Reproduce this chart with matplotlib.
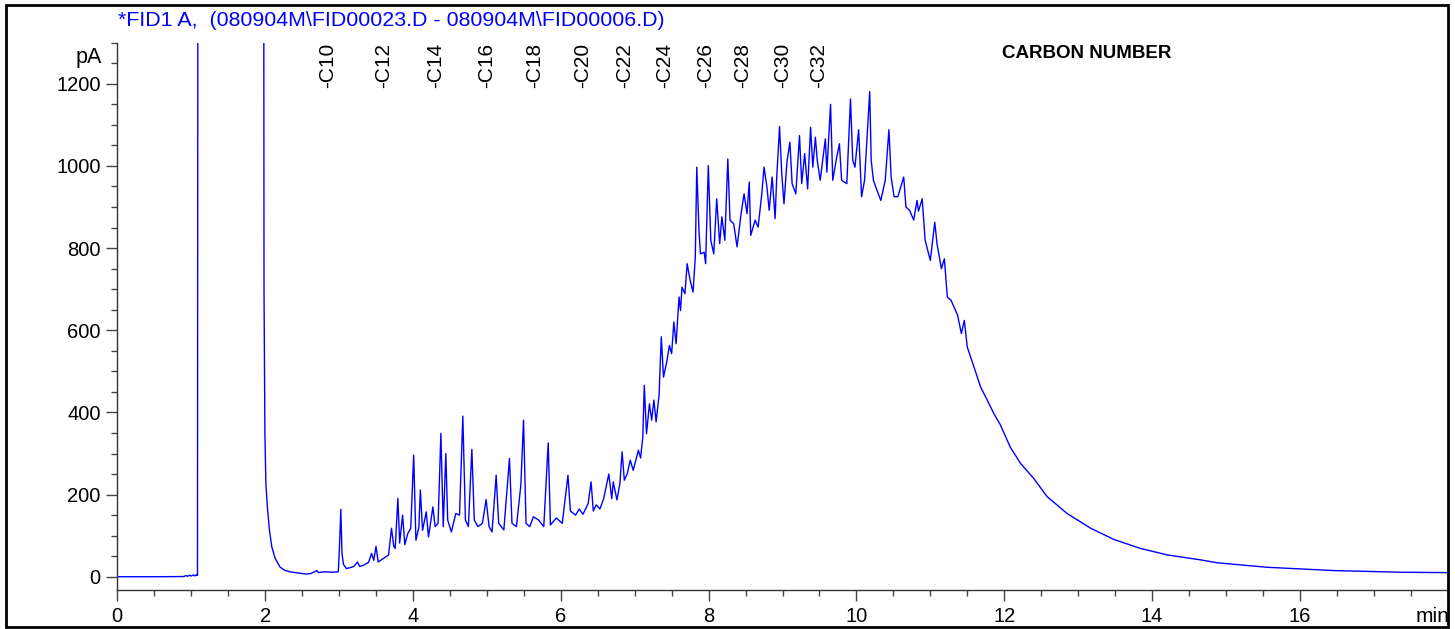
import matplotlib
matplotlib.use("Agg")
from matplotlib import pyplot as plt
from matplotlib.patches import Rectangle
from matplotlib.ticker import MultipleLocator

plt.rcParams['font.family'] = ['Liberation Sans', 'DejaVu Sans']

# retention time (min) and detector signal (pA)
time_min = [
    0.00, 0.50, 0.90, 0.93, 0.95, 0.98, 1.00, 1.03, 1.05, 1.07, 1.085,
    1.095, 1.975, 1.985, 1.997, 2.01, 2.03, 2.058, 2.09, 2.135, 2.20, 2.26,
    2.337, 2.45, 2.56, 2.62, 2.70, 2.72, 2.80, 2.90, 2.99, 3.01, 3.024, 3.04,
    3.06, 3.10, 3.15, 3.20, 3.25, 3.28, 3.33, 3.40, 3.44, 3.47, 3.50, 3.53,
    3.58, 3.67, 3.71, 3.74, 3.76, 3.796, 3.82, 3.86, 3.89, 3.93, 3.97, 4.01,
    4.04, 4.08, 4.10, 4.13, 4.18, 4.21, 4.27, 4.30, 4.34, 4.378, 4.41, 4.445,
    4.47, 4.52, 4.58, 4.63, 4.675, 4.71, 4.75, 4.797, 4.83, 4.88, 4.94, 4.99,
    5.03, 5.07, 5.126, 5.16, 5.23, 5.306, 5.34, 5.40, 5.46, 5.496, 5.53, 5.58,
    5.63, 5.70, 5.77, 5.83, 5.86, 5.94, 6.02, 6.097, 6.13, 6.20, 6.25, 6.30,
    6.37, 6.41, 6.44, 6.48, 6.53, 6.58, 6.65, 6.69, 6.71, 6.76, 6.80, 6.83,
    6.86, 6.90, 6.94, 6.98, 7.05, 7.08, 7.11, 7.13, 7.16, 7.20, 7.23, 7.26,
    7.29, 7.33, 7.36, 7.39, 7.43, 7.47, 7.50, 7.53, 7.56, 7.60, 7.62, 7.64,
    7.68, 7.71, 7.75, 7.79, 7.82, 7.84, 7.87, 7.89, 7.94, 7.96, 7.996, 8.03,
    8.07, 8.11, 8.15, 8.18, 8.22, 8.26, 8.29, 8.34, 8.385, 8.44, 8.48, 8.52,
    8.55, 8.57, 8.63, 8.67, 8.72, 8.75, 8.79, 8.82, 8.86, 8.90, 8.92, 8.96,
    8.99, 9.02, 9.06, 9.10, 9.13, 9.18, 9.23, 9.26, 9.30, 9.34, 9.38, 9.41,
    9.445, 9.47, 9.51, 9.58, 9.60, 9.65, 9.68, 9.73, 9.77, 9.80, 9.87, 9.92,
    9.95, 9.98, 10.03, 10.07, 10.11, 10.18, 10.20, 10.23, 10.28, 10.33,
    10.39, 10.44, 10.47, 10.51, 10.56, 10.64, 10.67, 10.72, 10.775, 10.82,
    10.84, 10.89, 10.93, 11.00, 11.06, 11.09, 11.15, 11.19, 11.23, 11.28,
    11.32, 11.37, 11.42, 11.46, 11.50, 11.59, 11.68, 11.77, 11.86, 11.95,
    12.08, 12.22, 12.40, 12.58, 12.85, 13.17, 13.48, 13.84, 14.21, 14.66,
    14.88, 15.56, 16.46, 17.36, 18.00,
]
signal_pa = [
    0, 0, 0.5, 3, 1, 4, 1.5, 4.5, 2, 5, 3,
    3000, 3000, 700, 350, 228, 170, 114, 73, 45, 24, 16,
    12, 9, 6.5, 8, 15, 10, 12, 11, 12, 90, 164, 57,
    30, 20, 22, 25, 36, 25, 28, 35, 57, 40, 74, 36,
    42, 53, 118, 75, 69, 191, 82, 150, 78, 105, 118, 296,
    89, 120, 211, 113, 158, 97, 170, 122, 130, 349, 122, 300,
    138, 109, 154, 150, 391, 138, 122, 310, 138, 122, 130, 188,
    122, 109, 247, 130, 114, 288, 130, 122, 223, 381, 130, 122,
    146, 138, 122, 326, 126, 143, 130, 247, 160, 150, 165, 152,
    178, 231, 160, 175, 165, 190, 250, 190, 231, 187, 227, 304,
    235, 251, 284, 259, 308, 289, 340, 466, 348, 421, 381, 430,
    377, 442, 584, 486, 519, 563, 543, 620, 567, 681, 648, 705,
    689, 762, 722, 693, 778, 997, 843, 786, 790, 762, 1001, 819,
    786, 920, 811, 876, 819, 1017, 868, 859, 803, 884, 932, 884,
    961, 831, 868, 851, 932, 997, 948, 892, 973, 872, 965, 1096,
    981, 908, 1009, 1058, 957, 932, 1074, 957, 1030, 944, 1094, 997,
    1070, 1014, 965, 1066, 985, 1150, 965, 1018, 1054, 965, 957, 1163,
    1014, 997, 1088, 925, 965, 1181, 1014, 965, 940, 916,
    965, 1088, 973, 925, 925, 973, 900, 892, 868, 916,
    890, 920, 819, 770, 863, 811, 750, 774, 681, 673,
    657, 636, 592, 624, 559, 511, 462, 430, 397, 369,
    316, 276, 239, 195, 154, 118, 91, 69, 53, 41,
    34, 23, 15, 11, 10,
]

carbon_labels = ['-C10', '-C12', '-C14', '-C16', '-C18', '-C20',
                 '-C22', '-C24', '-C26', '-C28', '-C30', '-C32']
carbon_times = [2.85, 3.61, 4.31, 5.00, 5.65, 6.29,
                6.86, 7.40, 7.96, 8.46, 9.00, 9.49]

title = r'*FID1 A,  (080904M\FID00023.D - 080904M\FID00006.D)'

W, H = 1455, 629
fig = plt.figure(figsize=(W / 100, H / 100), dpi=100)
ax = fig.add_axes([117.3 / W, 1 - 590.3 / H, (1447.7 - 117.3) / W, (590.3 - 42.7) / H])

ax.plot(time_min, signal_pa, color='#0000ff', lw=1.0)

ax.set_xlim(0, 18.0)
ax.set_ylim(-33, 1300)
for side in ['top', 'right']:
    ax.spines[side].set_visible(False)
for side in ['left', 'bottom']:
    ax.spines[side].set_color('#333333')
    ax.spines[side].set_linewidth(1.0)

ax.xaxis.set_major_locator(MultipleLocator(2))
ax.xaxis.set_minor_locator(MultipleLocator(0.5))
ax.yaxis.set_major_locator(MultipleLocator(200))
ax.yaxis.set_minor_locator(MultipleLocator(50))
ax.tick_params(which='major', length=8, width=1, color='#444444',
               labelsize=14.5, pad=4)
ax.tick_params(which='minor', length=4.3, width=1, color='#444444')
ax.set_xticks([0, 2, 4, 6, 8, 10, 12, 14, 16])

# carbon number markers along the top
for lab, t in zip(carbon_labels, carbon_times):
    ax.text(t, 1.0, lab, transform=ax.get_xaxis_transform(), rotation=90,
            ha='center', va='top', fontsize=15)

fig.text(1087 / W, 1 - 54 / H, 'CARBON NUMBER', ha='center', va='center',
         fontsize=13.5, fontweight='bold')
fig.text(102 / W, 1 - 63 / H, 'pA', ha='right', va='baseline', fontsize=15.5)
fig.text(1416 / W, 1 - 622 / H, 'min', ha='left', va='baseline', fontsize=15)
fig.text(118.3 / W, 1 - 26 / H, title, ha='left', va='baseline',
         fontsize=15.4, color='#0000ff')

fig.add_artist(Rectangle((6 / W, 1 - 627 / H), (1448 - 6) / W, (627 - 5) / H,
                         transform=fig.transFigure, fill=False,
                         edgecolor='black', lw=2, zorder=10))

fig.savefig('out.png', dpi=100)
